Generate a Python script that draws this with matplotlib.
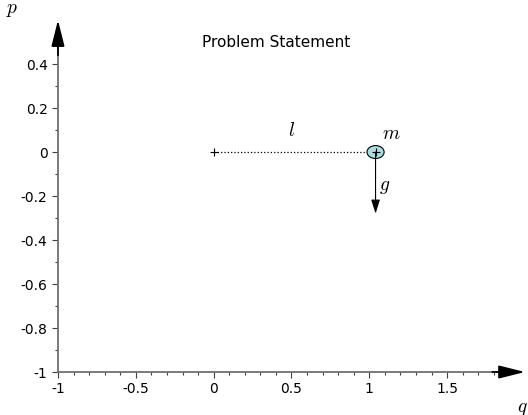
import matplotlib.pyplot as plt
from matplotlib.patches import Ellipse
from matplotlib.ticker import MultipleLocator, FuncFormatter

plt.rcParams['mathtext.fontset'] = 'cm'

# pendulum geometry
pivot = [0, 0]
mass = [1.04, 0]
gravity_end = [1.04, -0.28]
x_limits = [-1, 2.0]
y_limits = [-1, 0.6]

def fmt(v, pos):
    s = f"{v:.1f}"
    if s.endswith(".0"):
        s = s[:-2]
    if s == "-0":
        s = "0"
    return s

fig = plt.figure(figsize=(5.28, 4.15), dpi=100)
ax = fig.add_axes([0.1098, 0.1036, 0.8845, 0.848])
ax.set_xlim(x_limits)
ax.set_ylim(y_limits)

for s in ["top", "right", "left", "bottom"]:
    ax.spines[s].set_visible(False)

# axes with arrows
axis_col = "#707070"
ax.plot([0, 0.95], [0, 0], transform=ax.transAxes, color=axis_col, lw=1.3, clip_on=False)
ax.plot([0, 0], [0, 0.93], transform=ax.transAxes, color=axis_col, lw=1.3, clip_on=False)
arrow = dict(arrowstyle="-|>,head_length=1.0,head_width=0.25", color="black", lw=1.3,
             mutation_scale=16, shrinkA=0, shrinkB=0)
ax.annotate("", xy=(1.0, 0), xytext=(0.93, 0), xycoords="axes fraction", arrowprops=arrow,
            annotation_clip=False)
ax.annotate("", xy=(0, 1.0), xytext=(0, 0.90), xycoords="axes fraction", arrowprops=arrow,
            annotation_clip=False)

ax.xaxis.set_major_formatter(FuncFormatter(fmt))
ax.yaxis.set_major_formatter(FuncFormatter(fmt))
ax.set_xticks([t / 10 for t in range(-10, 20)], minor=True)
ax.set_yticks([t / 10 for t in range(-10, 6)], minor=True)
ax.set_yticks([-1, -0.8, -0.6, -0.4, -0.2, 0, 0.2, 0.4])
ax.set_xticks([-1, -0.5, 0, 0.5, 1, 1.5])
ax.tick_params(which="major", length=4, width=0.8, color="#404040", labelsize=10)
ax.tick_params(which="minor", length=2.5, width=0.8, color="#404040")

fig.text(0.979, 0.015, "$q$", fontsize=14, ha="left", va="center")
fig.text(0.023, 0.976, "$p$", fontsize=14, ha="center", va="center")

# pendulum
ax.plot([pivot[0], mass[0]], [pivot[1], mass[1]], color="black", ls=":", lw=0.9)
ax.plot(*pivot, marker="+", color="black", ms=6, mew=0.8)
ax.add_patch(Ellipse(mass, 0.11, 0.059, facecolor="#a8dde2", edgecolor="black", lw=0.8, zorder=3))
ax.plot(*mass, marker="+", color="black", ms=6, mew=0.8, zorder=4)
ax.annotate("", xy=gravity_end, xytext=mass,
            arrowprops=dict(arrowstyle="-|>,head_length=0.7,head_width=0.22", color="black",
                            lw=0.8, mutation_scale=12, shrinkA=0, shrinkB=0))

ax.text(0.5, 0.1, "$l$", fontsize=14, ha="center", va="center")
ax.text(1.14, 0.086, "$m$", fontsize=14, ha="center", va="center")
ax.text(1.1, -0.155, "$g$", fontsize=14, ha="center", va="center")
ax.text(0.4, 0.5, "Problem Statement", fontsize=11, ha="center", va="center")

fig.savefig("out.png", dpi=100)
